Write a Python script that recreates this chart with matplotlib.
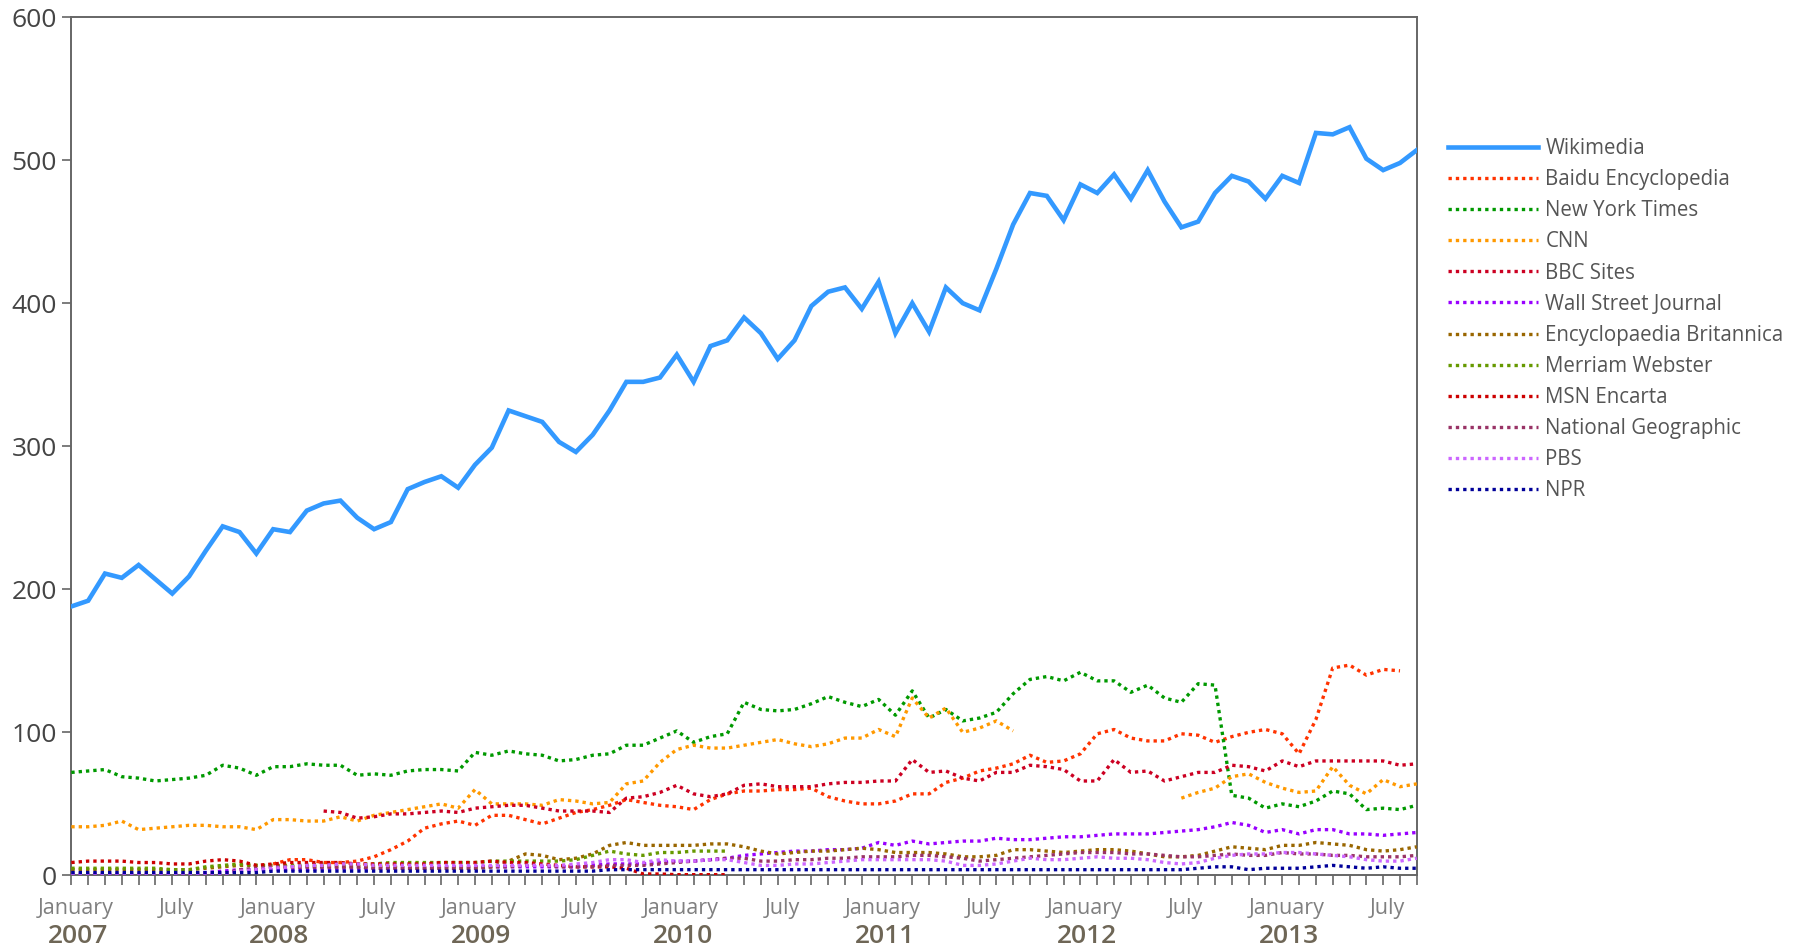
import numpy as np
import matplotlib
matplotlib.use("Agg")
import matplotlib.pyplot as plt
from matplotlib.ticker import FixedLocator, MultipleLocator
from matplotlib.transforms import blended_transform_factory, ScaledTranslation

plt.rcParams['font.family'] = ['Open Sans', 'DejaVu Sans']

nan = np.nan

# ---------------- data (monthly, month 0 = January 2007) ----------------
years = [2007, 2008, 2009, 2010, 2011, 2012, 2013]
tick_month_names = ['January', 'July']

wikimedia = [188, 192, 211, 208, 217, 207, 197, 209, 227, 244, 240, 225,
             242, 240, 255, 260, 262, 250, 242, 247, 270, 275, 279, 271,
             287, 299, 325, 321, 317, 303, 296, 308, 325, 345, 345, 348,
             364, 345, 370, 374, 390, 379, 361, 374, 398, 408, 411, 396,
             415, 379, 400, 380, 411, 400, 395, 424, 455, 477, 475, 458,
             483, 477, 490, 473, 493, 471, 453, 457, 477, 489, 485, 473,
             489, 484, 519, 518, 523, 501, 493, 498, 507]
wikimedia_start = 0

baidu = [8, 11, 11, 9, 9, 10, 13, 18, 24, 33, 36, 38,
         35, 42, 42, 39, 36, 40, 44, 46, 49, 53, 51, 49,
         48, 46, 53, 57, 59, 59, 60, 60, 61, 55, 52, 50,
         50, 52, 57, 57, 65, 68, 73, 75, 78, 84, 79, 80,
         85, 99, 102, 96, 94, 94, 99, 98, 93, 97, 100, 102,
         99, 85, 109, 145, 147, 140, 144, 143]
baidu_start = 12

nyt = [72, 73, 74, 69, 68, 66, 67, 68, 70, 77, 75, 70,
       76, 76, 78, 77, 77, 70, 71, 70, 73, 74, 74, 73,
       86, 84, 87, 85, 84, 80, 81, 84, 85, 91, 91, 96,
       101, 93, 97, 99, 121, 116, 115, 116, 120, 125, 121, 118,
       123, 112, 129, 110, 116, 108, 110, 114, 127, 137, 139, 136,
       142, 136, 136, 128, 133, 124, 121, 134, 133, 56, 54, 47,
       50, 48, 52, 59, 57, 46, 47, 46, 49]
nyt_start = 0

cnn = [34, 34, 35, 38, 32, 33, 34, 35, 35, 34, 34, 32,
       39, 39, 38, 38, 41, 38, 42, 44, 46, 48, 50, 47,
       60, 50, 50, 50, 49, 53, 52, 50, 51, 64, 66, 79,
       88, 91, 89, 89, 91, 93, 95, 92, 90, 92, 96, 96,
       102, 97, 124, 110, 117, 100, 103, 108, 101,
       nan, nan, nan, nan, nan, nan, nan, nan, nan,
       54, 58, 61, 69, 71, 65, 61, 58, 59, 76, 63, 57, 67, 62, 64]
cnn_start = 0

bbc = [45, 44, 40, 41, 43, 43, 44, 45, 44,
       47, 48, 49, 49, 47, 45, 45, 45, 44, 54, 55, 58,
       63, 57, 55, 57, 63, 64, 62, 62, 62, 64, 65, 65,
       66, 66, 81, 72, 73, 68, 66, 72, 72, 77, 76, 74,
       66, 66, 81, 72, 73, 66, 69, 72, 72, 77, 76, 73,
       80, 76, 80, 80, 80, 80, 80, 77, 78]
bbc_start = 15

wsj = [1, 1, 1, 1, 1, 1, 1, 1, 2, 3, 4, 4,
       4, 4, 4, 5, 5, 5, 5, 5, 5, 5, 6, 6,
       6, 6, 6, 6, 6, 6, 6, 7, 8, 8,
       8, 9, 10, 10, 11, 12, 14, 15, 16, 17, 17, 18, 18, 19, 23, 21, 24,
       22, 23, 24, 24, 26, 25, 25, 26, 27, 27, 28, 29, 29,
       29, 30, 31, 32, 34, 37, 35, 30, 32, 29, 32, 32, 29, 29, 28, 29, 30]
wsj_start = 0

britannica = [4, 4, 4, 4, 4, 4, 4, 4, 5, 6, 7, 7,
              7, 6, 6, 6, 6, 6, 6, 6, 5, 5, 5, 5,
              5, 6, 10, 15, 14, 11, 12, 15, 21, 23, 21, 21,
              21, 21, 22, 22, 20, 17, 15, 16, 17, 17, 18, 19,
              18, 16, 16, 16, 15, 13, 13, 14, 18, 18, 17, 16,
              17, 18, 18, 17, 15, 13, 13, 14, 17, 20, 19, 18,
              21, 21, 23, 22, 21, 18, 17, 18, 20]
britannica_start = 0

merriam = [5, 5, 5, 5, 5, 5, 4, 4, 6, 7, 8, 7,
           7, 7, 7, 8, 8, 8, 8, 9, 9, 9, 9, 9,
           9, 10, 10, 10, 10, 10, 11, 14, 17, 15, 14, 16,
           16, 17, 17, 17]
merriam_start = 0

msn_encarta = [9, 10, 10, 10, 9, 9, 8, 8, 10, 11, 10, 7,
               8, 9, 9, 9, 9, 8, 8, 8, 8, 8, 9, 9,
               9, 10, 9, 9, 8, 7, 6, 6, 6, 5, 1, 1,
               0.5, 0.5, 0.5, 0.5]
msn_start = 0

natgeo = [0, 0, 0, 0, 0, 0, 0, 0, 0, 1, 4, 5,
          6, 6, 6, 6, 6, 6, 5, 5, 5, 5, 5, 5,
          5, 6, 6, 7, 7, 6, 6, 6, 7, 7, 7, 8,
          9, 10, 11, 12, 12, 10, 10, 11, 11, 12, 12, 13,
          13, 13, 14, 14, 13, 12, 10, 11, 12, 13, 14, 15,
          16, 16, 16, 15, 15, 14, 13, 13, 14, 15, 14, 14,
          16, 15, 15, 14, 14, 13, 13, 13, 14]
natgeo_start = 0

pbs = [0, 0, 0, 0, 0, 0, 0, 0, 0, 1, 3, 4,
       5, 6, 7, 7, 8, 8, 7, 7, 7, 7, 7, 7,
       7, 7, 7, 7, 7, 7, 8, 9, 11, 11, 9, 11,
       10, 10, 11, 11, 9, 7, 7, 8, 8, 9, 10, 11,
       11, 11, 11, 11, 10, 7, 7, 8, 10, 12, 11, 11,
       12, 13, 12, 12, 11, 9, 8, 9, 12, 14, 15, 15,
       16, 16, 15, 14, 13, 11, 10, 10, 12]
pbs_start = 0

npr = [2, 2, 2, 2, 2, 2, 2, 2, 2, 2, 2, 2,
       3, 3, 3, 3, 3, 3, 3, 3, 3, 3, 3, 3,
       3, 3, 3, 3, 3, 3, 3, 3, 4, 4, 4, 4,
       4, 4, 4, 4, 4, 4, 4, 4, 4, 4, 4, 4,
       4, 4, 4, 4, 4, 4, 4, 4, 4, 4, 4, 4,
       4, 4, 4, 4, 4, 4, 4, 5, 6, 6, 4, 5,
       5, 5, 6, 7, 6, 5, 6, 5, 5]
npr_start = 0

# ---------------- styles ----------------
series = [
    ("Wikimedia", wikimedia, wikimedia_start, "#3399ff", "solid"),
    ("Baidu Encyclopedia", baidu, baidu_start, "#ff3300", "dot"),
    ("New York Times", nyt, nyt_start, "#009900", "dot"),
    ("CNN", cnn, cnn_start, "#ff9900", "dot"),
    ("BBC Sites", bbc, bbc_start, "#cc0022", "dot"),
    ("Wall Street Journal", wsj, wsj_start, "#9900ff", "dot"),
    ("Encyclopaedia Britannica", britannica, britannica_start, "#996600", "dot"),
    ("Merriam Webster", merriam, merriam_start, "#669900", "dot"),
    ("MSN Encarta", msn_encarta, msn_start, "#cc0000", "dot"),
    ("National Geographic", natgeo, natgeo_start, "#993366", "dot"),
    ("PBS", pbs, pbs_start, "#cc66ff", "dot"),
    ("NPR", npr, npr_start, "#000099", "dot"),
]

fig = plt.figure(figsize=(18.06, 9.47), dpi=100)
ax = fig.add_axes([0.0395, 0.0756, 0.7450, 0.9064])

handles = []
for name, vals, start, color, style in series:
    x = np.arange(start, start + len(vals))
    if style == "solid":
        h, = ax.plot(x, vals, color=color, lw=3.3, solid_joinstyle='miter', label=name, zorder=5)
    else:
        h, = ax.plot(x, vals, color=color, lw=2.4, linestyle=(0, (1.0, 1.2)),
                     dash_capstyle='butt', label=name, zorder=3)
    handles.append(h)

n_months = 81
ax.set_xlim(0, n_months - 1)
ax.set_ylim(0, 600)

spine_col = "#666666"
for s in ax.spines.values():
    s.set_color(spine_col)
    s.set_linewidth(1.4)

ax.set_yticks(range(0, 601, 100))
ax.tick_params(axis='y', direction='out', length=6.5, width=1.2, color=spine_col,
               labelsize=19, labelcolor="#444444", pad=4)

major = list(range(0, n_months, 6))
ax.xaxis.set_major_locator(FixedLocator(major))
ax.set_xticklabels([tick_month_names[(m // 6) % 2] for m in major])
ax.xaxis.set_minor_locator(MultipleLocator(1))
ax.tick_params(axis='x', which='both', direction='out', length=7.2, width=1.2, color=spine_col)
ax.tick_params(axis='x', which='major', labelsize=15.5, labelcolor="#808080", pad=9)

shift = ScaledTranslation(3 / 72, 0, fig.dpi_scale_trans)
for lab in ax.get_xticklabels():
    lab.set_transform(lab.get_transform() + shift)

trans = blended_transform_factory(ax.transData, ax.transAxes) + \
    ScaledTranslation(4.5 / 72, 0, fig.dpi_scale_trans)
for i, yr in enumerate(years):
    ax.text(12 * i, -0.0717, str(yr), transform=trans, ha='center', va='center',
            fontsize=19, fontweight='semibold', color="#6e6656")

leg = fig.legend(handles, [s[0] for s in series], loc='upper left',
                 bbox_to_anchor=(0.8018, 0.8540), frameon=False, fontsize=14.8,
                 handlelength=4.4, handletextpad=0.33, labelspacing=0.49,
                 borderpad=0, borderaxespad=0)
for t in leg.get_texts():
    t.set_color("#555555")

fig.savefig("out.png", dpi=100)
